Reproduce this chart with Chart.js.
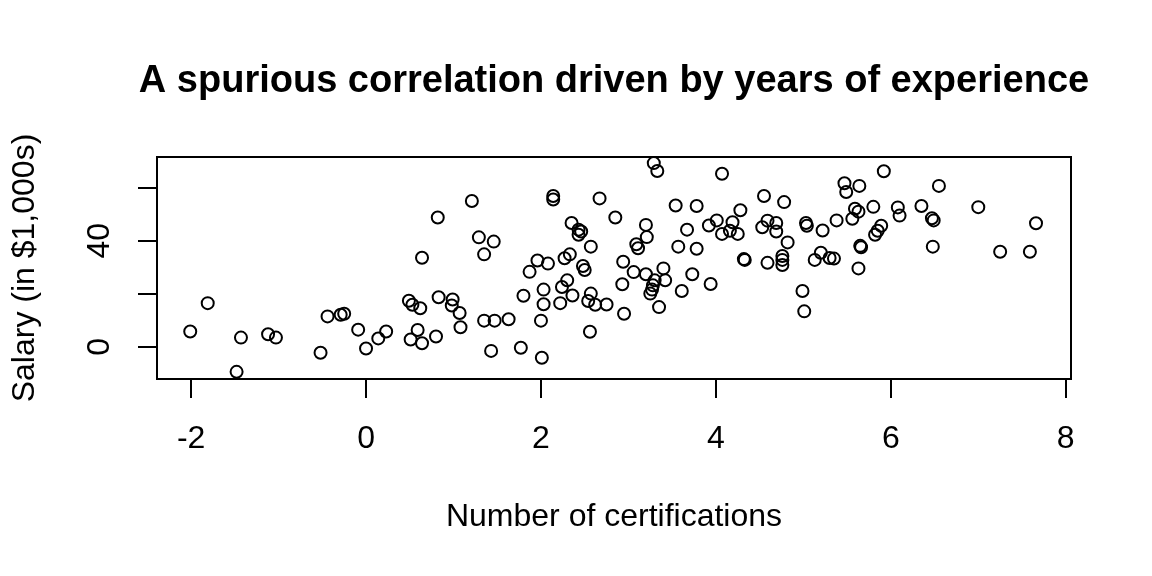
<!DOCTYPE html>
<html>
<head>
<meta charset="utf-8">
<script src="https://cdn.jsdelivr.net/npm/chart.js@4"></script>
<style>
  html, body { margin: 0; padding: 0; background: #fff; }
  #wrap { width: 1152px; height: 576px; position: relative; }
</style>
</head>
<body>
<div id="wrap"><canvas id="chart1"></canvas></div>
<script>
// data
const xCerts = [
  -1.81, -2.01, -1.43, -1.48, -1.12, -1.03, -0.44, -0.52, -0.29, -0.25, -0.09, 0.00, 0.14, 0.23,
  1.21, 0.82, 1.29, 1.46, 1.35, 0.64, 1.96, 2.08, 1.87, 2.14, 2.14, 0.49, 0.53, 0.62, 0.83, 0.99, 0.98,
  1.07, 1.08, 1.35, 1.47, 1.63, 1.80, 2.03, 2.03, 2.00, 0.59, 0.51, 0.64, 0.80, 1.43, 1.77, 2.01,
  3.29, 3.33, 2.67, 3.54, 2.85, 2.35, 2.43, 2.43, 2.46, 2.57, 3.20, 3.21, 3.09, 3.11, 3.57, 2.27, 2.33,
  2.48, 2.50, 2.94, 3.06, 3.20, 3.40, 3.42, 3.30, 3.28, 3.27, 3.25, 2.93, 2.30, 2.24, 2.36, 2.22, 2.57,
  2.54, 2.62, 2.75, 3.35, 2.95, 2.56, 3.61,
  4.07, 4.55, 4.78, 3.78, 4.28, 4.01, 4.19, 3.92, 3.67, 4.07, 4.16, 4.25, 4.59, 4.69, 4.53, 4.69, 5.03,
  5.04, 5.22, 4.82, 3.78, 4.32, 4.33, 4.59, 4.76, 4.76, 4.76, 5.13, 5.20, 5.30, 3.73, 3.94, 4.99, 5.01,
  5.92, 5.47, 5.49, 5.64, 6.55, 5.59, 5.63, 5.56, 5.80, 6.08, 6.10, 6.35, 6.47, 6.49, 7.00, 7.66, 5.38,
  5.89, 5.85, 5.82, 5.65, 5.66, 6.48, 7.25, 7.59, 5.35, 5.63
];
const ySalary = [
  16.5, 5.8, 3.5, -9.4, 4.8, 3.5, 11.5, -2.2, 12.1, 12.5, 6.5, -0.6, 3.2, 5.8,
  55.0, 48.8, 41.3, 39.7, 34.9, 33.6, 32.6, 31.4, 28.3, 56.9, 55.6, 17.4, 15.9, 14.6, 18.7, 17.9, 15.6,
  12.8, 7.4, 9.9, 9.9, 10.4, 19.3, 21.6, 16.1, 9.9, 6.4, 2.8, 1.4, 3.9, -1.5, -0.3, -4.1,
  69.3, 66.3, 56.0, 53.3, 48.8, 46.7, 44.2, 42.3, 43.5, 37.8, 46.0, 41.4, 38.7, 37.2, 37.8, 33.4, 34.9,
  30.5, 29.0, 32.1, 28.2, 27.4, 29.6, 25.1, 25.1, 23.2, 21.6, 20.1, 23.6, 25.1, 22.6, 19.4, 16.5, 20.1,
  17.3, 15.9, 16.0, 15.0, 12.5, 5.7, 21.1,
  65.3, 56.9, 54.6, 53.1, 51.5, 47.7, 47.0, 45.8, 44.2, 42.6, 43.8, 42.6, 47.6, 46.7, 45.1, 43.5, 46.7,
  45.7, 43.9, 39.4, 37.0, 33.1, 32.8, 31.7, 34.3, 32.8, 30.9, 32.8, 35.5, 33.5, 27.4, 23.7, 21.1, 13.4,
  66.2, 61.7, 58.4, 60.7, 60.7, 52.1, 51.0, 48.3, 52.8, 52.6, 49.5, 53.1, 48.5, 47.7, 52.7, 46.6, 47.7,
  45.7, 43.8, 42.3, 38.1, 37.6, 37.8, 35.9, 35.9, 33.3, 29.6
];
const xTicks = [-2, 0, 2, 4, 6, 8];
const yTicks = [0, 20, 40, 60];
const yTickLabels = [0, 40];

const titleText = 'A spurious correlation driven by years of experience';
const FONT = '"Liberation Sans", Arial, sans-serif';

// box, main title and the rotated y labels
const extras = {
  id: 'extras',
  afterDraw(chart) {
    const { ctx, chartArea: a, scales } = chart;
    ctx.save();
    ctx.strokeStyle = '#000';
    ctx.lineWidth = 2;
    ctx.strokeRect(a.left, a.top, a.right - a.left, a.bottom - a.top);

    ctx.fillStyle = '#000';
    ctx.font = 'bold 38px ' + FONT;
    ctx.textAlign = 'center';
    ctx.textBaseline = 'alphabetic';
    ctx.fillText(titleText, (a.left + a.right) / 2, 92);

    ctx.font = '32px ' + FONT;
    ctx.textBaseline = 'middle';
    yTickLabels.forEach(v => {
      const py = scales.y.getPixelForValue(v);
      ctx.save();
      ctx.translate(a.left - 57, py);
      ctx.rotate(-Math.PI / 2);
      ctx.fillText(String(v), 0, 0);
      ctx.restore();
    });
    ctx.restore();
  }
};

const pts = xCerts.map((x, i) => ({ x: x, y: ySalary[i] }));

const ctx = document.getElementById('chart1');
const chart1 = new Chart(ctx, {
  type: 'scatter',
  data: {
    datasets: [{
      data: pts,
      pointStyle: 'circle',
      pointRadius: 6,
      pointHoverRadius: 6,
      pointBorderWidth: 2,
      borderColor: '#000',
      backgroundColor: 'rgba(0,0,0,0)'
    }]
  },
  options: {
    responsive: true,
    maintainAspectRatio: false,
    animation: false,
    layout: { padding: { top: 157, right: 81, left: 0, bottom: 0 } },
    plugins: { legend: { display: false }, tooltip: { enabled: false } },
    scales: {
      x: {
        type: 'linear',
        min: -2.39,
        max: 8.06,
        afterBuildTicks: s => { s.ticks = xTicks.map(v => ({ value: v })); },
        afterFit: s => { s.height = 197; },
        grid: { display: true, drawOnChartArea: false, drawTicks: true, tickLength: 19, color: '#000', lineWidth: 2 },
        border: { display: true, color: '#000', width: 2 },
        ticks: { color: '#000', padding: 22, maxRotation: 0, font: { family: FONT, size: 32 } },
        title: { display: true, text: 'Number of certifications', color: '#000', padding: { top: 0, bottom: 40 }, font: { family: FONT, size: 32 } }
      },
      y: {
        type: 'linear',
        min: -12.1,
        max: 71.6,
        afterBuildTicks: s => { s.ticks = yTicks.map(v => ({ value: v })); },
        afterFit: s => { s.width = 157; },
        grid: { display: true, drawOnChartArea: false, drawTicks: true, tickLength: 19, color: '#000', lineWidth: 2 },
        border: { display: true, color: '#000', width: 2 },
        ticks: { display: false },
        title: { display: true, text: 'Salary (in $1,000s)', color: '#000', padding: { top: 6, bottom: 0 }, font: { family: FONT, size: 32 } }
      }
    }
  },
  plugins: [extras]
});
</script>
</body>
</html>
